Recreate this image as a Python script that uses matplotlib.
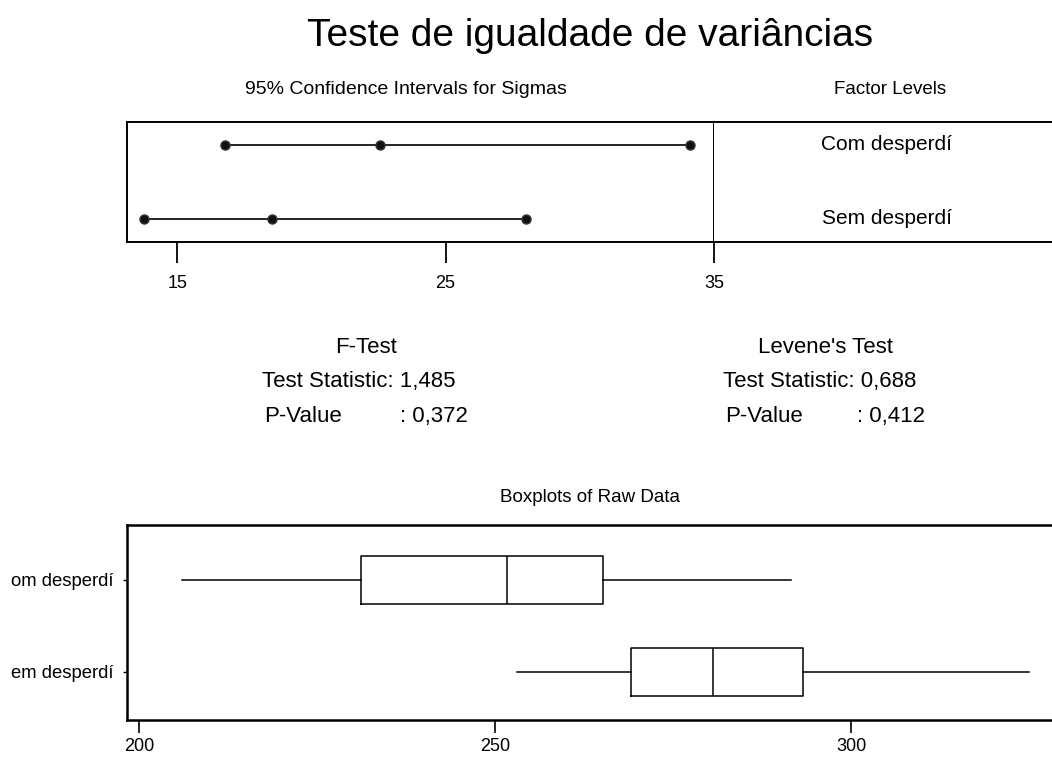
import matplotlib
matplotlib.use("Agg")
import matplotlib.pyplot as plt

plt.rcParams['font.family'] = ['Liberation Sans', 'DejaVu Sans']

W, H = 1052, 763

# ---- data ----
factor_levels = ["Com desperdí", "Sem desperdí"]
box_labels = ["om desperdí", "em desperdí"]
ci_lower = [16.79, 13.76]
ci_sigma = [22.57, 18.54]
ci_upper = [34.12, 28.01]
ci_ticks = [15, 25, 35]

f_stat, f_p = "1,485", "0,372"
lev_stat, lev_p = "0,688", "0,412"

# boxplot stats: whislo, q1, med, q3, whishi
box_com = [206.0, 231.2, 251.7, 265.2, 291.6]
box_sem = [253.1, 269.1, 280.6, 293.3, 325.0]
box_ticks = [200, 250, 300]

fig = plt.figure(figsize=(W / 100, H / 100), dpi=100)


def fx(px):
    return px / W


def fy(py):
    return 1 - py / H


# title
fig.text(fx(590), fy(36), "Teste de igualdade de variâncias", ha="center", va="center", fontsize=28)

# ---- CI axes ----
ax1 = fig.add_axes([fx(127), fy(242), fx(714 - 127), (242 - 122) / H])
ys = [2, 1]
for y, lo, s, hi in zip(ys, ci_lower, ci_sigma, ci_upper):
    ax1.plot([lo, hi], [y, y], color="black", lw=1.2, zorder=2)
    ax1.plot([lo, s, hi], [y, y, y], ls="none", marker="o", ms=6.5,
             mfc="#111111", mec="#333333", mew=1, zorder=3)
ax1.set_xlim(13.13, 35)
ax1.set_ylim(1 - 23 / 74, 2 + 23 / 74)
ax1.set_yticks([])
ax1.set_xticks(ci_ticks)
ax1.set_xticklabels([str(t) for t in ci_ticks], fontsize=13)
ax1.tick_params(axis="x", direction="out", length=15, width=1.3, pad=9)
for sp in ax1.spines.values():
    sp.set_linewidth(1.4)
fig.text(fx(406), fy(90), "95% Confidence Intervals for Sigmas", ha="center", va="center", fontsize=14)

# ---- factor level axes ----
ax2 = fig.add_axes([fx(714), fy(242), fx(1060 - 714), (242 - 122) / H])
ax2.set_xlim(714, 1060)
ax2.set_ylim(1 - 23 / 74, 2 + 23 / 74)
ax2.set_xticks([])
ax2.set_yticks([])
ax2.spines["left"].set_visible(False)
for sp in ax2.spines.values():
    sp.set_linewidth(1.4)
for y, lab in zip(ys, factor_levels):
    ax2.text(887, y, lab, ha="center", va="center", fontsize=15)
fig.text(fx(890), fy(90), "Factor Levels", ha="center", va="center", fontsize=13.5)

# ---- test statistics ----
def stat_block(cx, left, right, name, stat, p):
    fig.text(fx(cx), fy(347), name, ha="center", va="center", fontsize=16)
    fig.text(fx(left), fy(382), "Test Statistic: " + stat, ha="left", va="center", fontsize=16)
    fig.text(fx(left + 2), fy(417), "P-Value", ha="left", va="center", fontsize=16)
    fig.text(fx(right), fy(417), ": " + p, ha="right", va="center", fontsize=16)


stat_block(366, 262, 468, "F-Test", f_stat, f_p)
stat_block(825, 723, 925, "Levene's Test", lev_stat, lev_p)

# ---- boxplot axes ----
ax3 = fig.add_axes([fx(127), fy(720), fx(1060 - 127), (720 - 525) / H])
stats = []
for lab, b in zip(box_labels, [box_com, box_sem]):
    stats.append(dict(label=lab, whislo=b[0], q1=b[1], med=b[2], q3=b[3], whishi=b[4], fliers=[]))
ax3.bxp(stats, positions=[2, 1], vert=False, widths=0.52, showcaps=False,
        boxprops=dict(color="black", lw=1.1),
        whiskerprops=dict(color="black", lw=1.1),
        medianprops=dict(color="black", lw=1.1))
ax3.set_xlim(198.3, 200 + (1060 - 139) / 7.12)
ax3.set_ylim(1 - 48 / 92, 2 + 55 / 92)
ax3.set_yticks([2, 1])
ax3.set_yticklabels(box_labels, fontsize=13.3)
ax3.set_xticks(box_ticks)
ax3.set_xticklabels([str(t) for t in box_ticks], fontsize=13)
ax3.tick_params(axis="x", direction="out", length=9, width=1.2, pad=4)
ax3.tick_params(axis="y", direction="out", length=3, width=1, pad=7)
for sp in ax3.spines.values():
    sp.set_linewidth(1.8)
fig.text(fx(590), fy(497), "Boxplots of Raw Data", ha="center", va="center", fontsize=13.5)

fig.savefig("out.png", dpi=100)
